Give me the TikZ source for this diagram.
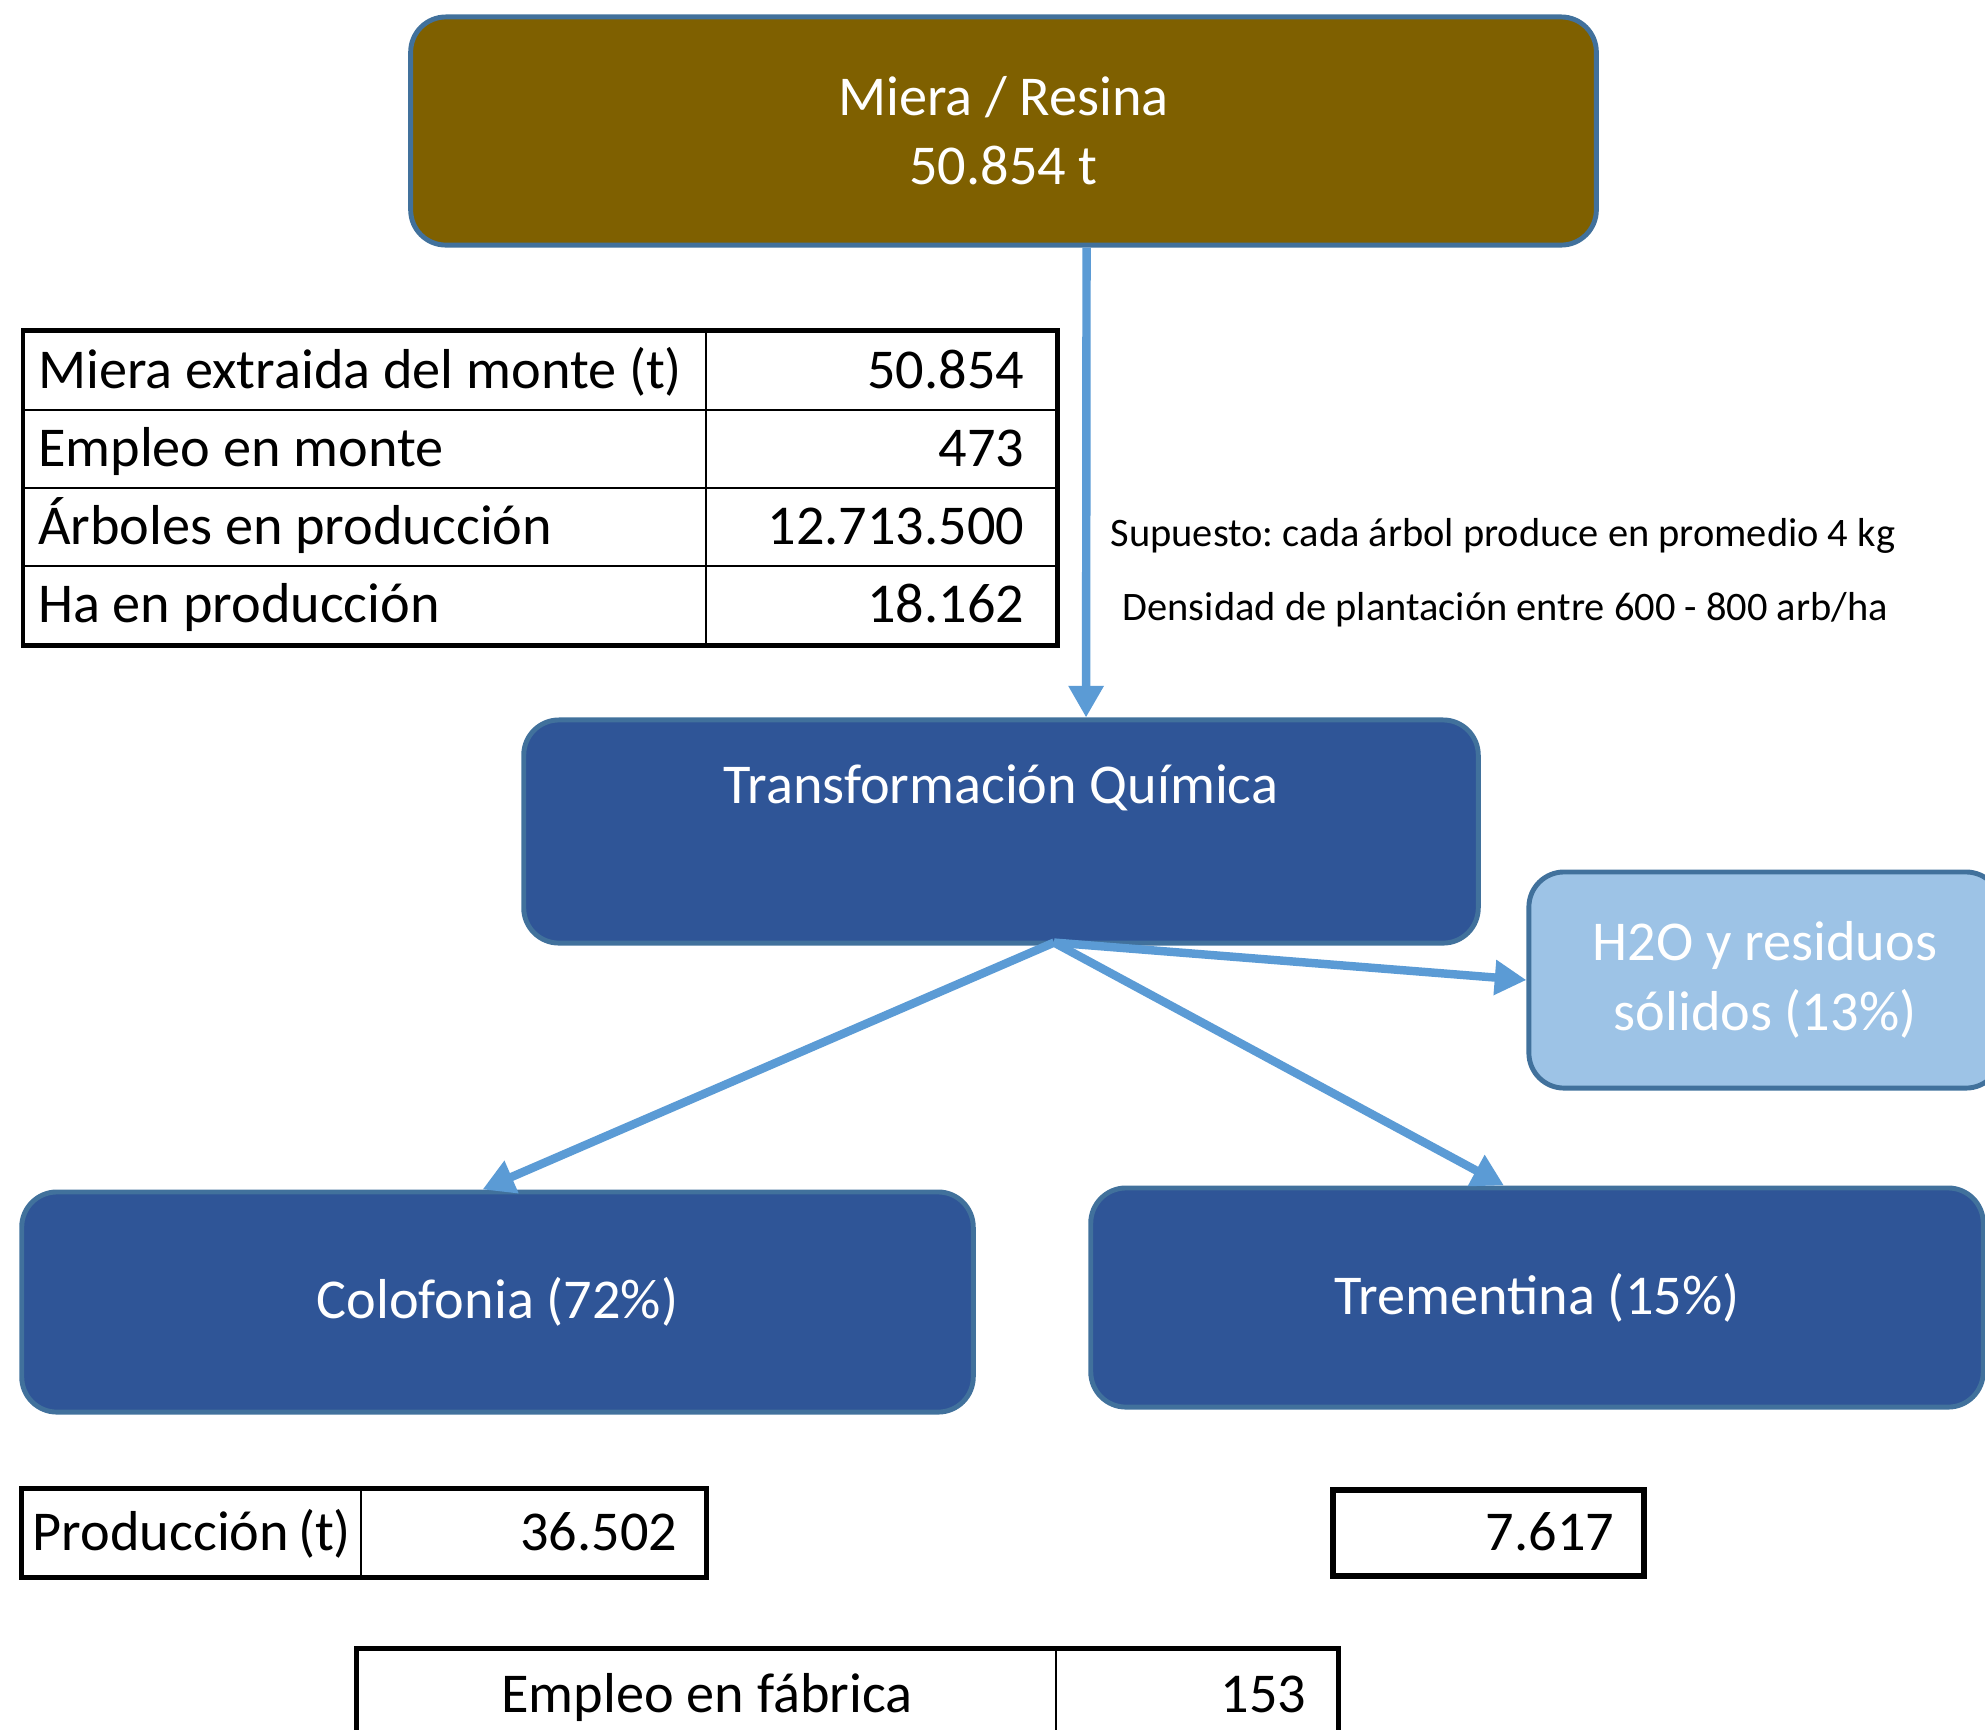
\documentclass[tikz,border=0pt]{standalone}
\usepackage{fontspec}
\setmainfont{Carlito}
\usetikzlibrary{arrows.meta,positioning}

\definecolor{miera}{HTML}{7F6000}
\definecolor{borde}{HTML}{41719C}
\definecolor{azul}{HTML}{2F5597}
\definecolor{celeste}{HTML}{9DC3E6}
\definecolor{flecha}{HTML}{5B9BD5}

\tikzset{
	caja/.style={rounded corners=10pt, draw=borde, line width=1.4pt, fill=azul, text=white, align=center, font=\fontsize{16}{19.6}\selectfont},
	celda/.style={draw=black, line width=0.7pt, inner ysep=0pt, text height=10pt, text depth=0pt, font=\fontsize{16}{19}\selectfont},
	flujo/.style={draw=flecha, line width=2.4pt, -{Triangle[length=9pt,width=9.5pt]}},
	nota/.style={anchor=base west, inner sep=0pt, font=\fontsize{11.5}{14}\selectfont},
}

\begin{document}
\frenchspacing
\begin{tikzpicture}[x=0.01cm, y=-0.01cm]
	\useasboundingbox (0,0) rectangle (1985,1729);
	\clip (0,0) rectangle (1985,1729);

	\node[caja, fill=miera, minimum width=11.85cm, minimum height=2.28cm] (resina) at (1003.5,131) {Miera / Resina\\50.854 t};

	\node[celda, minimum height=0.78cm, inner xsep=0.14cm, text width=6.535cm, align=flush left] (etq1) at (365,371) {Miera extraida del monte (t)};
	\node[celda, minimum height=0.78cm, inner xsep=0.32cm, text width=2.86cm, align=flush right] (val1) at (881,371) {50.854};
	\node[celda, minimum height=0.78cm, inner xsep=0.14cm, text width=6.535cm, align=flush left] (etq2) at (365,449) {Empleo en monte};
	\node[celda, minimum height=0.78cm, inner xsep=0.32cm, text width=2.86cm, align=flush right] (val2) at (881,449) {473};
	\node[celda, minimum height=0.78cm, inner xsep=0.14cm, text width=6.535cm, align=flush left] (etq3) at (365,527) {Árboles en producción};
	\node[celda, minimum height=0.78cm, inner xsep=0.32cm, text width=2.86cm, align=flush right] (val3) at (881,527) {12.713.500};
	\node[celda, minimum height=0.78cm, inner xsep=0.14cm, text width=6.535cm, align=flush left] (etq4) at (365,605) {Ha en producción};
	\node[celda, minimum height=0.78cm, inner xsep=0.32cm, text width=2.86cm, align=flush right] (val4) at (881,605) {18.162};
	\draw[line width=1.3pt] (etq1.north west) rectangle (val4.south east);

	\node[nota] (supuesto) at (1110,546) {Supuesto: cada árbol produce en promedio 4 kg};
	\node[nota] (densidad) at (1122,620) {Densidad de plantación entre 600 - 800 arb/ha};

	\node[caja, minimum width=9.54cm, minimum height=2.23cm] (trans) at (1001,831.5) {};
	\node[text=white, font=\fontsize{16}{19.6}\selectfont] (transtxt) at (1001,788) {Transformación Química};

	\node[caja, fill=celeste, minimum width=4.72cm, minimum height=2.16cm, font=\fontsize{16}{20}\selectfont] (h2o) at (1765,980) {H2O y residuos\\sólidos (13\%)};

	\node[caja, minimum width=9.51cm, minimum height=2.2cm] (colo) at (497.5,1302) {Colofonia (72\%)};
	\node[caja, minimum width=8.92cm, minimum height=2.19cm] (trem) at (1537,1297.5) {Trementina (15\%)};

	\draw[flujo] ([xshift=0.83cm]resina.south) -- ([xshift=0.85cm]trans.north);
	\coordinate (reparto) at ([xshift=0.53cm,yshift=0.03cm]trans.south);
	\draw[flujo] (reparto) -- (h2o.west);
	\draw[flujo] (reparto) -- ([xshift=-0.15cm]colo.north);
	\draw[flujo] (reparto) -- ([xshift=-0.33cm]trem.north);

	\node[celda, minimum height=0.86cm, inner xsep=0.1cm, text width=3.18cm, align=flush left] (prod) at (192,1533) {Producción~(t)};
	\node[celda, minimum height=0.86cm, inner xsep=0.28cm, text width=2.88cm, align=flush right] (prodcol) at (533,1533) {36.502};
	\draw[line width=1.5pt] (prod.north west) rectangle (prodcol.south east);

	\node[celda, line width=1.5pt, minimum height=0.86cm, inner xsep=0.3cm, text width=2.51cm, align=flush right] (prodtrem) at (1488.5,1533) {7.617};

	\node[celda, minimum height=0.9cm, inner xsep=0pt, text width=6.98cm, align=flush center] (fabrica) at (707,1695) {Empleo en fábrica};
	\node[celda, minimum height=0.9cm, inner xsep=0.31cm, text width=2.19cm, align=flush right] (fabricaval) at (1196.5,1695) {153};
	\draw[line width=1.5pt] (fabrica.north west) rectangle (fabricaval.south east);
\end{tikzpicture}
\end{document}
